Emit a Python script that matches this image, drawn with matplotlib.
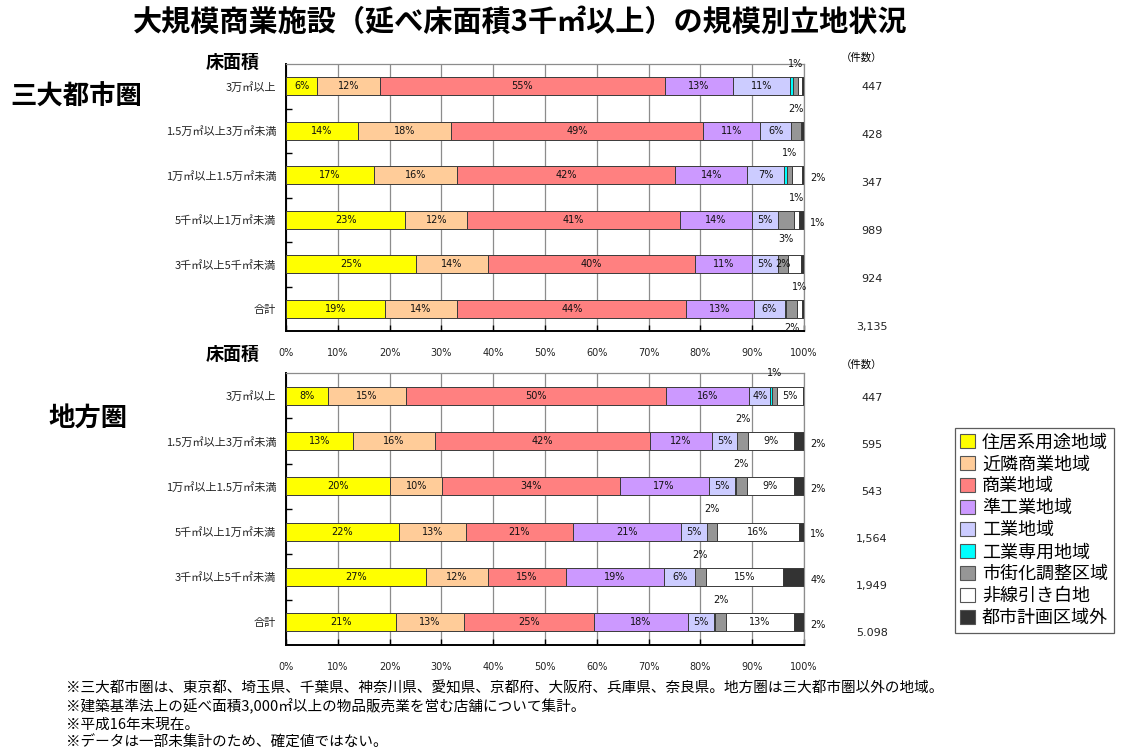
import matplotlib
matplotlib.use('Agg')
import matplotlib.pyplot as plt
from matplotlib.patches import Patch
import numpy as np

plt.rcParams['font.family'] = ['Noto Sans CJK JP', 'DejaVu Sans']

# ---------------- data ----------------
categories = ['3万㎡以上', '1.5万㎡以上3万㎡未満', '1万㎡以上1.5万㎡未満',
              '5千㎡以上1万㎡未満', '3千㎡以上5千㎡未満', '合計']
zones = ['住居系用途地域', '近隣商業地域', '商業地域', '準工業地域', '工業地域',
         '工業専用地域', '市街化調整区域', '非線引き白地', '都市計画区域外']
zone_colors = ['#FFFF00', '#FFCC99', '#FF8080', '#CC99FF', '#CCCCFF',
               '#00FFFF', '#969696', '#FFFFFF', '#333333']

# 三大都市圏 (%)
metro_residential = [6, 14, 17, 23, 25, 19]
metro_neighborhood = [12, 18, 16, 12, 14, 14]
metro_commercial = [55, 49, 42, 41, 40, 44]
metro_semi_industrial = [13, 11, 14, 14, 11, 13]
metro_industrial = [11, 6, 7, 5, 5, 6]
metro_exclusive_ind = [0.6, 0, 0.6, 0, 0, 0.3]
metro_urbanization_ctrl = [1, 2, 1, 3, 2, 2]
metro_unzoned = [0.8, 0, 2, 1, 2.5, 1]
metro_outside_plan = [0.3, 0.5, 0.3, 1, 0.5, 0.4]
metro_counts = ['447', '428', '347', '989', '924', '3,135']

# 地方圏 (%)
local_residential = [8, 13, 20, 22, 27, 21]
local_neighborhood = [15, 16, 10, 13, 12, 13]
local_commercial = [50, 42, 34, 21, 15, 25]
local_semi_industrial = [16, 12, 17, 21, 19, 18]
local_industrial = [4, 5, 5, 5, 6, 5]
local_exclusive_ind = [0.3, 0, 0.3, 0, 0, 0.2]
local_urbanization_ctrl = [1, 2, 2, 2, 2, 2]
local_unzoned = [5, 9, 9, 16, 15, 13]
local_outside_plan = [0.2, 2, 2, 1, 4, 2]
local_counts = ['447', '595', '543', '1,564', '1,949', '5.098']

metro_values = np.array([metro_residential, metro_neighborhood, metro_commercial,
                         metro_semi_industrial, metro_industrial, metro_exclusive_ind,
                         metro_urbanization_ctrl, metro_unzoned, metro_outside_plan], float).T
local_values = np.array([local_residential, local_neighborhood, local_commercial,
                         local_semi_industrial, local_industrial, local_exclusive_ind,
                         local_urbanization_ctrl, local_unzoned, local_outside_plan], float).T

# label placement for small segments (row, zone index, where)
metro_outside = [(0, 6, 'above'), (1, 6, 'above'), (2, 6, 'above'), (2, 7, 'right'),
                 (3, 7, 'above'), (3, 8, 'right'), (3, 6, 'below'),
                 (5, 7, 'above'), (5, 6, 'below')]
metro_inside_extra = [(4, 6)]
local_outside = [(0, 6, 'above'), (1, 6, 'above'), (1, 8, 'right'), (2, 6, 'above'),
                 (2, 8, 'right'), (3, 6, 'above'), (3, 8, 'right'), (4, 6, 'above'),
                 (4, 8, 'right'), (5, 6, 'above'), (5, 8, 'right')]
local_inside_extra = []

footnotes = ['※三大都市圏は、東京都、埼玉県、千葉県、神奈川県、愛知県、京都府、大阪府、兵庫県、奈良県。地方圏は三大都市圏以外の地域。',
             '※建築基準法上の延べ面積3,000㎡以上の物品販売業を営む店舗について集計。',
             '※平成16年末現在。',
             '※データは一部未集計のため、確定値ではない。']

# ---------------- figure ----------------
W, H = 1128, 756
fig = plt.figure(figsize=(W / 100, H / 100), dpi=100)


def px_axes(left, top, right, bottom):
    return fig.add_axes([left / W, 1 - bottom / H, (right - left) / W, (bottom - top) / H])


def draw_panel(ax, values, outside, inside_extra):
    n = values.shape[0]
    pct = values / values.sum(axis=1, keepdims=True) * 100
    cum = np.cumsum(pct, axis=1) - pct
    y = np.arange(n)
    outside_keys = {(i, j) for i, j, _ in outside}
    for j in range(values.shape[1]):
        mask = values[:, j] > 0
        ax.barh(y[mask], pct[mask, j], left=cum[mask, j], height=0.4,
                color=zone_colors[j], edgecolor='#3a3a3a', linewidth=0.7, zorder=3)
        for i in range(n):
            v = values[i, j]
            if (v >= 4 and (i, j) not in outside_keys) or (i, j) in inside_extra:
                ax.text(cum[i, j] + pct[i, j] / 2, y[i], f'{v:.0f}%', ha='center',
                        va='center', fontsize=7, color='#111111', zorder=4,
                        family='DejaVu Sans')
    for i, j, where in outside:
        v = values[i, j]
        cx = cum[i, j] + pct[i, j] / 2
        if where == 'above':
            xy, off = (cx, i), (0, 16)
        elif where == 'below':
            xy, off = (cx, i), (0, -14)
        else:
            xy, off = (100, i), (10, -2)
        ax.annotate(f'{v:.0f}%', xy=xy, xytext=off, textcoords='offset points',
                    ha='center', va='center', fontsize=7, color='#111111',
                    family='DejaVu Sans', annotation_clip=False)

    ax.set_xlim(0, 100)
    ax.set_ylim(n - 0.5, -0.5)
    ax.set_xticks(range(0, 101, 10))
    ax.set_xticklabels([f'{t}%' for t in range(0, 101, 10)], fontsize=7,
                       family='DejaVu Sans', color='#222222')
    ax.set_yticks(y)
    ax.set_yticklabels(categories, fontsize=8, color='#222222')
    ax.set_yticks(np.arange(0.5, n - 0.5, 1), minor=True)
    ax.tick_params(axis='y', which='major', length=0, pad=7)
    ax.tick_params(axis='y', which='minor', direction='in', length=4, width=1, color='black')
    ax.tick_params(axis='x', direction='in', length=4, width=1, pad=12, color='black')
    ax.grid(axis='x', color='#8c8c8c', linewidth=0.9, zorder=0)
    ax.set_axisbelow(True)
    for s in ['left', 'bottom']:
        ax.spines[s].set_color('black')
        ax.spines[s].set_linewidth(1.4)
    for s in ['top', 'right']:
        ax.spines[s].set_color('#8c8c8c')
        ax.spines[s].set_linewidth(0.9)


ax1 = px_axes(286, 64, 804, 331)
draw_panel(ax1, metro_values, metro_outside, metro_inside_extra)
ax2 = px_axes(286, 373, 804, 645)
draw_panel(ax2, local_values, local_outside, local_inside_extra)


def ftext(x, y, s, **kw):
    fig.text(x / W, 1 - y / H, s, **kw)


ftext(520, 22, '大規模商業施設（延べ床面積3千㎡以上）の規模別立地状況', ha='center', va='center',
      fontsize=21, fontweight='bold')
ftext(10, 97, '三大都市圏', ha='left', va='center', fontsize=19, fontweight='bold')
ftext(48, 418, '地方圏', ha='left', va='center', fontsize=19, fontweight='bold')
ftext(233, 62, '床面積', ha='center', va='center', fontsize=13, fontweight='bold')
ftext(233, 354, '床面積', ha='center', va='center', fontsize=13, fontweight='bold')
ftext(862, 58, '（件数）', ha='center', va='center', fontsize=7.5)
ftext(862, 365, '（件数）', ha='center', va='center', fontsize=7.5)

for i, c in enumerate(metro_counts):
    ftext(872, 87 + 48 * i, c, ha='center', va='center', fontsize=8, family='DejaVu Sans',
          color='#222222')
for i, c in enumerate(local_counts):
    ftext(872, 398 + 47 * i, c, ha='center', va='center', fontsize=8, family='DejaVu Sans',
          color='#222222')

for k, line in enumerate(footnotes):
    ftext(66, 689 + 18 * k, line, ha='left', va='center', fontsize=10.5)

handles = [Patch(facecolor=c, edgecolor='#555555', linewidth=0.8) for c in zone_colors]
leg = fig.legend(handles, zones, loc='upper left', bbox_to_anchor=(955 / W, 1 - 428 / H),
                 fontsize=13, frameon=True, fancybox=False, edgecolor='#333333',
                 handlelength=0.8, handleheight=0.8, handletextpad=0.4,
                 labelspacing=0.22, borderpad=0.3, borderaxespad=0)
leg.get_frame().set_linewidth(0.9)

fig.savefig('out.png', dpi=100)
